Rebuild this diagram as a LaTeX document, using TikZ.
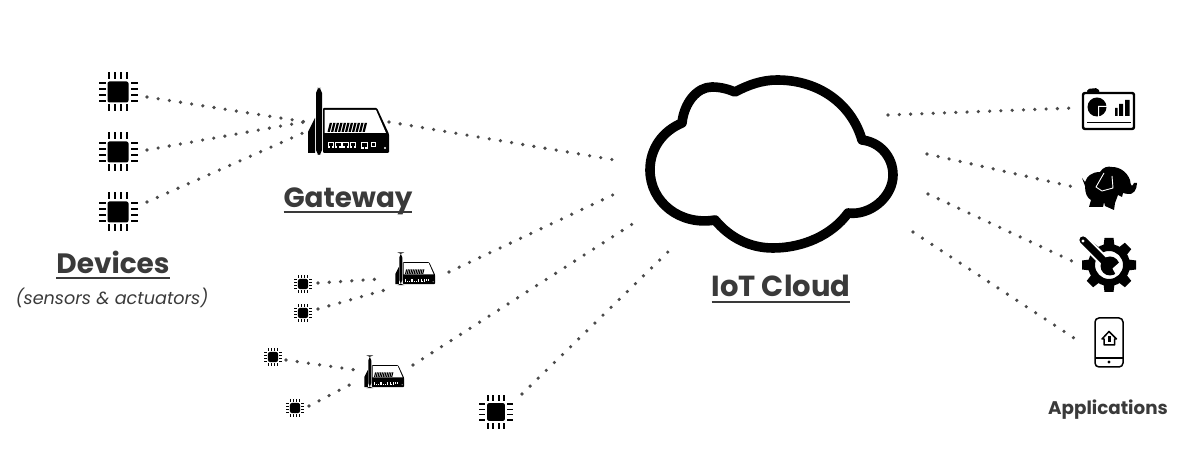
\documentclass[tikz,border=0pt]{standalone}
\usepackage{fontspec}
\setmainfont{Poppins}
\newfontfamily\labelfont{Poppins}
\newcommand\ulx[1]{\setbox0=\hbox{#1}\rlap{\rule[-0.21em]{\wd0}{0.075em}}\box0}
\definecolor{ink}{HTML}{3A3A3A}
\definecolor{dotc}{HTML}{4A4A4A}
\tikzset{
  dots/.style={draw=dotc,line width=1.8pt,line cap=round,dash pattern=on 0pt off 5.65pt},
  mark/.style={inner sep=0pt,outer sep=0pt,minimum size=#1},
  title/.style={text=ink,font=\labelfont\bfseries\fontsize{#1}{16}\selectfont,inner sep=0pt},
  chip/.pic={
    \fill[black,rounded corners=1] (-10.5,-10.5) rectangle (10.5,10.5);
    \foreach \p in {-9,-3,3,9}{
      \fill (-19.5,\p-1.1) rectangle (-12.5,\p+1.1);
      \fill (12.5,\p-1.1) rectangle (19.5,\p+1.1);
      \fill (\p-1.2,-19.5) rectangle (\p+1.2,-12.5);
      \fill (\p-1.2,12.5) rectangle (\p+1.2,19.5);
    }
  },
  router/.pic={
    \fill[black,rounded corners=0.5] (-27,-14) -- (27,-14) -- (39,12) -- (39,31) -- (-27,31) -- cycle;
    \fill[white] (-25.5,-12) -- (26,-12) -- (36,11) -- (-25.5,11) -- cycle;
    \foreach \i in {0,...,10}{
      \fill[black] (-22.5+\i*3.5,10) -- (-20.3+\i*3.5,1) -- (-18+\i*3.5,1) -- (-20.2+\i*3.5,10) -- cycle;
    }
    \foreach \i in {0,1,2,3}{
      \fill[white] (-22+\i*7.2,20) rectangle (-15.6+\i*7.2,26.5);
      \fill[black] (-21+\i*7.2,21) rectangle (-16.6+\i*7.2,24.5);
      \fill[black] (-19.8+\i*7.2,24) rectangle (-17.8+\i*7.2,26.5);
    }
    \fill[white] (10.5,20) rectangle (18,27);
    \fill[black] (11.5,21) rectangle (17,25);
    \fill[black] (13.5,25) rectangle (15,27);
    \fill[white] (21,20) rectangle (26,25);
    \fill[black] (22.3,21.3) rectangle (24.7,23.7);
    \fill[white] (35,26) circle (1.1);
    \fill[black] (-42,31) -- (-42,10) -- (-35,-4) -- (-35,31) -- cycle;
    \fill[black,rounded corners=2.5] (-34,-34) rectangle (-28,33);
  },
}
\begin{document}
\begin{tikzpicture}[x=0.5pt,y=-0.5pt]
\useasboundingbox (0,0) rectangle (1200,453);
% device chips
\node[mark=20pt] (chipA) at (118,92) {};
\node[mark=20pt] (chipB) at (118,152) {};
\node[mark=20pt] (chipC) at (118,212) {};
\node[mark=16pt] (chipD) at (496,412) {};
\node[mark=10pt] (chipE) at (303,284) {};
\node[mark=10pt] (chipF) at (303,313) {};
\node[mark=10pt] (chipG) at (273,357) {};
\node[mark=10pt] (chipH) at (295,408) {};
\pic at (chipA) {chip};
\pic at (chipB) {chip};
\pic at (chipC) {chip};
\pic[scale=0.85] at (chipD) {chip};
\pic[scale=0.48] at (chipE) {chip};
\pic[scale=0.48] at (chipF) {chip};
\pic[scale=0.48] at (chipG) {chip};
\pic[scale=0.48] at (chipH) {chip};
% gateways
\node[mark=40pt] (gwA) at (350,122) {};
\node[mark=20pt] (gwB) at (416,269) {};
\node[mark=20pt] (gwC) at (385,372) {};
\pic at (gwA) {router};
\pic[scale=0.49] at (gwB) {router};
\pic[scale=0.49] at (gwC) {router};
% cloud
\node[mark=100pt] (cloud) at (771,163) {};
\draw[black,line width=4.8pt,line join=round]
  (735,92) .. controls (748,85) and (762,80) .. (777,80)
  .. controls (820,80) and (852,105) .. (862,140)
  .. controls (880,142) and (893,157) .. (893,175)
  .. controls (893,197) and (870,216) .. (848,213)
  .. controls (832,235) and (803,248) .. (773,248)
  .. controls (750,248) and (730,238) .. (715,220)
  .. controls (680,226) and (650,202) .. (650,170)
  .. controls (650,148) and (663,131) .. (682,123)
  .. controls (684,103) and (697,87) .. (712,87)
  .. controls (720,87) and (728,89) .. (735,92) -- cycle;
% dashboard
\node[mark=26pt] (appA) at (1108,110) {};
\draw[black,line width=1.2pt,rounded corners=1] (1083,93) rectangle (1134,129);
\fill[black,rounded corners=1] (1087,93) -- (1087,89) -- (1098,88) -- (1100,93) -- cycle;
\fill[black] (1097,107) circle (9.5);
\fill[white] (1098,106) -- (1108,106) -- (1108,107) -- (1099,107) -- (1099,117) -- (1098,117) -- cycle;
\fill[black] (1115,108) rectangle (1117.5,116) (1119,104) rectangle (1123,116) (1125,100) rectangle (1129.5,116);
\fill[black] (1087,122) rectangle (1131,123.5);
% elephant
\node[mark=24pt] (appB) at (1110,188) {};
\fill[black] (1082,178) -- (1085,182) .. controls (1087,176) and (1092,172) .. (1100,172)
  .. controls (1103,167) and (1108,166) .. (1112,167)
  .. controls (1120,167) and (1127,172) .. (1130,180)
  .. controls (1131,187) and (1132,187) .. (1134,183)
  -- (1137,183) .. controls (1137,190) and (1133,195) .. (1128,194)
  .. controls (1126,194) and (1124,193) .. (1123,193)
  -- (1122,197) -- (1118,195) -- (1115,203) -- (1114,210) -- (1105,206) -- (1104,202)
  -- (1103,207) -- (1089,207) -- (1091,200) .. controls (1087,198) and (1085,193) .. (1085,186) -- cycle;
\draw[white,line width=0.45pt,line join=round] (1104,173) -- (1096,187) -- (1102,191) -- (1113,188) -- (1112,176);
% tool
\node[mark=26pt] (appC) at (1109,265) {};
\foreach \a in {0,45,...,315}{
  \fill[black,rotate around={\a:(1109,265)}] (1104.5,238) -- (1113.5,238) -- (1115,250) -- (1103,250) -- cycle;
}
\fill[black,even odd rule] (1109,265) circle (21) (1109,265) circle (14);
\draw[white,line width=5.5pt,line cap=round] (1083,240) -- (1104,261);
\draw[black,line width=3.6pt,line cap=round] (1083,240) -- (1106,263);
\fill[white] (1083,241) circle (1.6);
\fill[black] (1110,266) circle (9.5);
\fill[white] (1112.5,268.5) -- (1121,261) -- (1121,270) -- (1116,275) -- cycle;
% phone
\node[mark=20pt] (appD) at (1109,342) {};
\draw[black,line width=0.75pt,rounded corners=2] (1095,318) rectangle (1123,367);
\draw[black,line width=0.75pt] (1095,358) -- (1123,358);
\fill[black] (1109,362) circle (1.6);
\draw[black,line width=0.75pt,line join=round] (1102,339) -- (1109,331.5) -- (1116.5,339) -- (1114.5,339) -- (1114.5,345) -- (1104,345) -- (1104,339) -- cycle;
\fill[black] (1108,336) rectangle (1110.5,342);
% connector ends
\coordinate (a1) at (147,97);   \coordinate (a2) at (306,122);
\coordinate (b1) at (147,150);  \coordinate (b2) at (304,122);
\coordinate (c1) at (147,202);  \coordinate (c2) at (303,133);
\coordinate (g1) at (389,122);  \coordinate (g2) at (615,160);
\coordinate (e1) at (318,283);  \coordinate (e2) at (380,279);
\coordinate (f1) at (318,309);  \coordinate (f2) at (385,290);
\coordinate (h1) at (286,360);  \coordinate (h2) at (356,370);
\coordinate (i1) at (309,406);  \coordinate (i2) at (357,381);
\coordinate (j1) at (449,272);  \coordinate (j2) at (617,193);
\coordinate (k1) at (413,365);  \coordinate (k2) at (634,223);
\coordinate (l1) at (522,394);  \coordinate (l2) at (670,250);
\coordinate (m1) at (888,115);  \coordinate (m2) at (1074,108);
\coordinate (n1) at (927,154);  \coordinate (n2) at (1074,187);
\coordinate (o1) at (928,194);  \coordinate (o2) at (1074,262);
\coordinate (q1) at (913,232);  \coordinate (q2) at (1077,340);
\draw[dots] (a1) -- (a2);
\draw[dots] (b1) -- (b2);
\draw[dots] (c1) -- (c2);
\draw[dots] (g1) -- (g2);
\draw[dots] (e1) -- (e2);
\draw[dots] (f1) -- (f2);
\draw[dots] (h1) -- (h2);
\draw[dots] (i1) -- (i2);
\draw[dots] (j1) -- (j2);
\draw[dots] (k1) -- (k2);
\draw[dots] (l1) -- (l2);
\draw[dots] (m1) -- (m2);
\draw[dots] (n1) -- (n2);
\draw[dots] (o1) -- (o2);
\draw[dots] (q1) -- (q2);
% labels
\node[title=14] (devices) at (113,265) {\ulx{Devices}};
\node[title=13.9] (gateway) at (348,201) {\ulx{Gateway}};
\node[title=14.5] (iot) at (781,289) {\ulx{IoT Cloud}};
\node[text=ink,font=\labelfont\itshape\fontsize{8.8}{10}\selectfont,inner sep=0pt] (sens) at (112,298) {(sensors \& actuators)};
\node[text=ink,font=\labelfont\bfseries\fontsize{9.15}{10}\selectfont,inner sep=0pt] (apps) at (1108,410) {Applications};
\end{tikzpicture}
\end{document}
